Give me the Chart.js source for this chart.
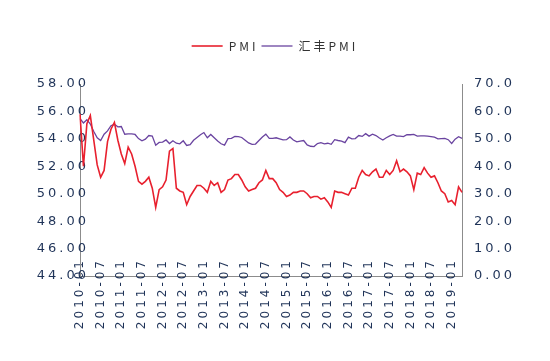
<!DOCTYPE html>
<html lang="zh">
<head>
    <meta charset="UTF-8">
    <title>PMI 与 汇丰PMI</title>
    <style>
        html, body { margin: 0; padding: 0; background: #fff; }
        .chart-box { width: 550px; height: 361px; position: relative; }
    </style>
</head>
<body>
    <div class="chart-box">
        <canvas id="chart"></canvas>
    </div>

    <script src="https://cdn.jsdelivr.net/npm/chart.js@4.4.0/dist/chart.umd.js"></script>
    <script>
        // 月份 2010-01 ~ 2019-04
        const months = [];
        for (let y = 2010; y <= 2019; y++) {
            for (let m = 1; m <= 12; m++) {
                if (y === 2019 && m > 4) break;
                months.push(y + '-' + String(m).padStart(2, '0'));
            }
        }

        // 官方制造业PMI (左轴)
        const pmi = [
            55.8, 52.0, 55.1, 55.7, 53.9, 52.1, 51.2, 51.7, 53.8, 54.7, 55.2, 53.9,
            52.9, 52.2, 53.4, 52.9, 52.0, 50.9, 50.7, 50.9, 51.2, 50.4, 49.0, 50.3,
            50.5, 51.0, 53.1, 53.3, 50.4, 50.2, 50.1, 49.2, 49.8, 50.2, 50.6, 50.6,
            50.4, 50.1, 50.9, 50.6, 50.8, 50.1, 50.3, 51.0, 51.1, 51.4, 51.4, 51.0,
            50.5, 50.2, 50.3, 50.4, 50.8, 51.0, 51.7, 51.1, 51.1, 50.8, 50.3, 50.1,
            49.8, 49.9, 50.1, 50.1, 50.2, 50.2, 50.0, 49.7, 49.8, 49.8, 49.6, 49.7,
            49.4, 49.0, 50.2, 50.1, 50.1, 50.0, 49.9, 50.4, 50.4, 51.2, 51.7, 51.4,
            51.3, 51.6, 51.8, 51.2, 51.2, 51.7, 51.4, 51.7, 52.4, 51.6, 51.8, 51.6,
            51.3, 50.3, 51.5, 51.4, 51.9, 51.5, 51.2, 51.3, 50.8, 50.2, 50.0, 49.4,
            49.5, 49.2, 50.5, 50.1
        ];

        // 汇丰PMI (右轴)
        const hsbcPmi = [
            57.4, 55.8, 57.0, 55.4, 52.7, 50.4, 49.4, 51.7, 52.9, 54.8, 55.3, 54.4,
            54.5, 51.7, 51.8, 51.8, 51.6, 50.1, 49.3, 49.9, 51.2, 51.0, 47.7, 48.7,
            48.8, 49.6, 48.3, 49.3, 48.4, 48.2, 49.3, 47.6, 47.9, 49.5, 50.5, 51.5,
            52.3, 50.4, 51.6, 50.4, 49.2, 48.2, 47.7, 50.1, 50.2, 50.9, 50.8, 50.5,
            49.5, 48.5, 48.0, 48.1, 49.4, 50.7, 51.7, 50.2, 50.2, 50.4, 50.0, 49.6,
            49.7, 50.7, 49.6, 48.9, 49.2, 49.4, 47.8, 47.3, 47.2, 48.3, 48.6, 48.2,
            48.4, 48.0, 49.7, 49.4, 49.2, 48.6, 50.6, 50.0, 50.1, 51.2, 50.9, 51.9,
            51.0, 51.7, 51.2, 50.3, 49.6, 50.4, 51.1, 51.6, 51.0, 51.0, 50.8, 51.5,
            51.5, 51.6, 51.0, 51.1, 51.1, 51.0, 50.8, 50.6, 50.0, 50.1, 50.2, 49.7,
            48.3, 49.9, 50.8, 50.2
        ];

        const axisColor = '#8c8c8c';
        const tickColor = '#1f3358';

        // 字间距 (原图文字是拉开的)
        const letterSpacing = {
            id: 'letterSpacing',
            beforeLayout(chart) { chart.ctx.letterSpacing = '3px'; },
            beforeDraw(chart) { chart.ctx.letterSpacing = '3px'; }
        };

        // 图例: 字间距 + 下方留空
        const legendTweak = {
            id: 'legendTweak',
            beforeInit(chart) {
                const legend = chart.legend;
                const fit = legend.fit;
                const draw = legend.draw;
                legend.fit = function () {
                    this.ctx.letterSpacing = '3px';
                    fit.call(this);
                    this.height += 22;
                };
                legend.draw = function () {
                    this.ctx.letterSpacing = '3px';
                    draw.call(this);
                };
            }
        };

        // 刻度文字压在轴线上, 不要裁掉
        const noLabelClip = scale => { scale._computeLabelArea = () => null; };

        const ctx = document.getElementById('chart').getContext('2d');
        new Chart(ctx, {
            type: 'line',
            data: {
                labels: months,
                datasets: [
                    {
                        label: 'PMI',
                        data: pmi,
                        yAxisID: 'y',
                        borderColor: '#e8202e',
                        borderWidth: 1.6,
                        pointRadius: 0,
                        tension: 0
                    },
                    {
                        label: '汇丰PMI',
                        data: hsbcPmi,
                        yAxisID: 'y1',
                        borderColor: '#6a44a0',
                        borderWidth: 1.3,
                        pointRadius: 0,
                        tension: 0
                    }
                ]
            },
            options: {
                responsive: true,
                maintainAspectRatio: false,
                animation: false,
                layout: { padding: { top: 37, left: 0, right: 0, bottom: 0 } },
                plugins: {
                    legend: {
                        position: 'top',
                        labels: {
                            usePointStyle: true,
                            pointStyle: 'line',
                            pointStyleWidth: 31,
                            padding: 3,
                            color: '#333',
                            font: { family: '"Noto Sans CJK SC", "DejaVu Sans", sans-serif', size: 12 }
                        }
                    },
                    tooltip: { enabled: false }
                },
                scales: {
                    x: {
                        offset: false,
                        grid: { display: false, drawTicks: false },
                        border: { color: axisColor, width: 1 },
                        afterFit(scale) { scale.height = 85; noLabelClip(scale); },
                        ticks: {
                            autoSkip: false,
                            minRotation: 90,
                            maxRotation: 90,
                            padding: -18,
                            color: tickColor,
                            font: { family: '"DejaVu Sans", sans-serif', size: 12 },
                            callback: (v, i) => (i % 6 === 0 ? months[i] : null)
                        }
                    },
                    y: {
                        position: 'left',
                        min: 44,
                        max: 58,
                        grid: { display: false, drawTicks: false },
                        border: { color: axisColor, width: 1 },
                        afterFit(scale) { scale.width = 80; noLabelClip(scale); },
                        ticks: {
                            stepSize: 2,
                            padding: -9,
                            color: tickColor,
                            font: { family: '"DejaVu Sans", sans-serif', size: 13 },
                            callback: v => v.toFixed(2)
                        }
                    },
                    y1: {
                        position: 'right',
                        min: 0,
                        max: 70,
                        grid: { display: false, drawOnChartArea: false, tickLength: 3, color: axisColor },
                        border: { color: axisColor, width: 1 },
                        afterFit(scale) { scale.width = 88; },
                        ticks: {
                            stepSize: 10,
                            padding: 9,
                            color: tickColor,
                            font: { family: '"DejaVu Sans", sans-serif', size: 13 },
                            callback: v => (v === 0 ? '0.00' : v.toFixed(1))
                        }
                    }
                }
            },
            plugins: [letterSpacing, legendTweak]
        });
    </script>
</body>
</html>
